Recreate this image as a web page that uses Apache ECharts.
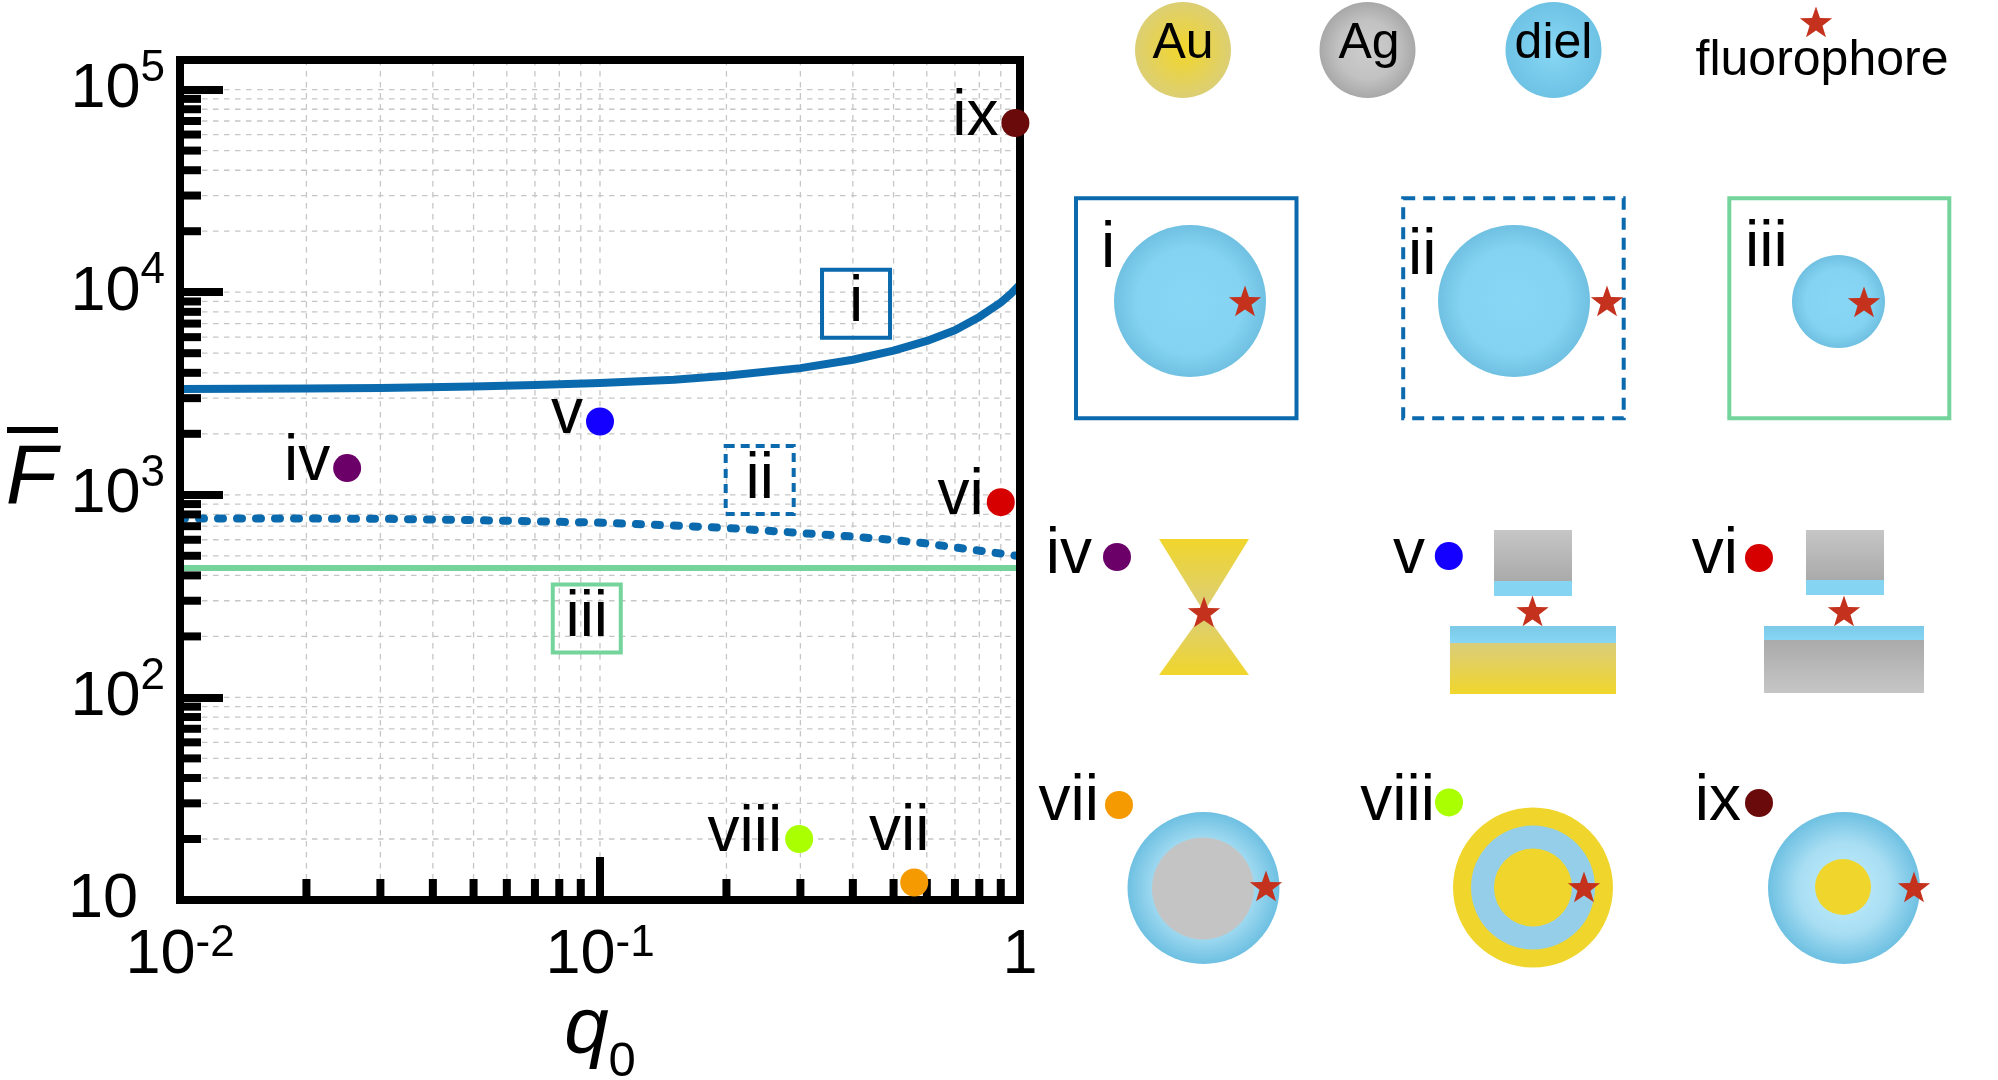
<!DOCTYPE html>
<html><head><meta charset="utf-8">
<script src="https://cdn.jsdelivr.net/npm/echarts@6/dist/echarts.min.js"></script>
<style>html,body{margin:0;padding:0;background:#fff}#c{width:1998px;height:1080px}</style>
</head><body><div id="c"></div>
<script>
const FONT = '"Liberation Sans", Arial, sans-serif';

// ---- data ----
const qGrid   = [0.01, 0.02, 0.03, 0.05, 0.07, 0.1, 0.15, 0.2, 0.3, 0.4, 0.5, 0.6, 0.7, 0.8, 0.9, 0.95, 1.0];
const curveI  = [3330, 3345, 3370, 3420, 3480, 3560, 3700, 3870, 4220, 4640, 5150, 5750, 6490, 7550, 8900, 9800, 10900];
const curveII = [764, 763, 762, 750, 740, 729, 705, 686, 648, 622, 598, 575, 550, 530, 513, 505, 498];
const curveIIIq = [0.01, 1];
const curveIII  = [435, 435];

const pointNames  = ['iv', 'v', 'vi', 'vii', 'viii', 'ix'];
const pointQ      = [0.025, 0.1, 0.9, 0.56, 0.298, 0.975];
const pointF      = [1355, 2300, 920, 12.2, 20.0, 68400];
const pointColors = ['#6a0068', '#1400ff', '#d60000', '#f59a00', '#aaff00', '#6b0a0a'];

const boxNames  = ['i', 'ii', 'iii'];
const boxQ      = [0.407, 0.240, 0.093];
const boxF      = [8770, 1182, 245];
const boxColors = ['#0a6aad', '#0a6aad', '#74d49c'];

const xMajorTicks = [0.01, 0.1, 1];
const yMajorTicks = [10, 100, 1000, 10000, 100000];
const xMinorTicks = [0.02, 0.03, 0.04, 0.05, 0.06, 0.07, 0.08, 0.09, 0.2, 0.3, 0.4, 0.5, 0.6, 0.7, 0.8, 0.9];
const yMinorTicks = [20, 30, 40, 50, 60, 70, 80, 90, 200, 300, 400, 500, 600, 700, 800, 900,
                     2000, 3000, 4000, 5000, 6000, 7000, 8000, 9000, 20000, 30000, 40000, 50000, 60000, 70000, 80000, 90000];
const xGridVals = xMinorTicks.concat([0.1]);
const yGridVals = yMinorTicks.concat([100, 1000, 10000, 100000]);

// ---- helpers ----
function isPow10(v) { const e = Math.log10(v); return Math.abs(e - Math.round(e)) < 1e-3; }
function fmtX(v) {
  if (!isPow10(v)) return '';
  const e = Math.round(Math.log10(v));
  if (e === 0) return '1';
  return '10{sup|' + e + '}';
}
function fmtY(v) {
  if (!isPow10(v)) return '';
  const e = Math.round(Math.log10(v));
  if (e === 1) return '10{sp| }';
  return '10{sup|' + e + '}';
}

const chart = echarts.init(document.getElementById('c'));

const gridSeries = [
  {
    type: 'custom', z: 1, silent: true, coordinateSystem: 'cartesian2d',
    data: yGridVals.map(v => [0.01, v]),
    renderItem: function (params, api) {
      const cs = params.coordSys;
      const p = api.coord([api.value(0), api.value(1)]);
      return { type: 'line', shape: { x1: cs.x, y1: p[1], x2: cs.x + cs.width, y2: p[1] },
               style: { stroke: '#c6c6c6', lineWidth: 1.3, lineDash: [5.5, 5.5] } };
    }
  },
  {
    type: 'custom', z: 1, silent: true, coordinateSystem: 'cartesian2d',
    data: xGridVals.map(v => [v, 10]),
    renderItem: function (params, api) {
      const cs = params.coordSys;
      const p = api.coord([api.value(0), api.value(1)]);
      return { type: 'line', shape: { x1: p[0], y1: cs.y, x2: p[0], y2: cs.y + cs.height },
               style: { stroke: '#c6c6c6', lineWidth: 1.3, lineDash: [5.5, 5.5] } };
    }
  },
  {
    type: 'custom', z: 3, silent: true, coordinateSystem: 'cartesian2d',
    data: yMinorTicks.map(v => [0.01, v]),
    renderItem: function (params, api) {
      const cs = params.coordSys;
      const p = api.coord([api.value(0), api.value(1)]);
      return { type: 'rect', shape: { x: cs.x, y: p[1] - 4, width: 21, height: 8 }, style: { fill: '#000' } };
    }
  },
  {
    type: 'custom', z: 3, silent: true, coordinateSystem: 'cartesian2d',
    data: xMinorTicks.map(v => [v, 10]),
    renderItem: function (params, api) {
      const cs = params.coordSys;
      const p = api.coord([api.value(0), api.value(1)]);
      return { type: 'rect', shape: { x: p[0] - 4, y: cs.y + cs.height - 21, width: 8, height: 21 }, style: { fill: '#000' } };
    }
  }
];

// ---- illustration (decorative graphics) ----
const BLUE_SPHERE = { type: 'radial', x: 0.5, y: 0.5, r: 0.5, colorStops: [
  { offset: 0, color: '#88d7f5' }, { offset: 0.7, color: '#84d3f2' }, { offset: 1, color: '#70c0e2' }] };
const LIGHT_SHELL = { type: 'radial', x: 0.5, y: 0.5, r: 0.5, colorStops: [
  { offset: 0, color: '#c4eefc' }, { offset: 0.6, color: '#a8def3' }, { offset: 1, color: '#6ec0e2' }] };
const GOLD = '#f0d62c';
function lin(c0, c1) { return { type: 'linear', x: 0, y: 0, x2: 0, y2: 1, colorStops: [{ offset: 0, color: c0 }, { offset: 1, color: c1 }] }; }
function rad(c0, c1) { return { type: 'radial', x: 0.5, y: 0.5, r: 0.5, colorStops: [{ offset: 0, color: c0 }, { offset: 1, color: c1 }] }; }

const G = [];
function circle(cx, cy, r, fill) { G.push({ type: 'circle', silent: true, shape: { cx: cx, cy: cy, r: r }, style: { fill: fill } }); }
function rect(x, y, w, h, fill) { G.push({ type: 'rect', silent: true, shape: { x: x, y: y, width: w, height: h }, style: { fill: fill } }); }
function frame(x, y, w, h, stroke, dash) { G.push({ type: 'rect', silent: true, shape: { x: x, y: y, width: w, height: h },
  style: { fill: 'none', stroke: stroke, lineWidth: 4, lineDash: dash || null } }); }
function poly(pts, fill) { G.push({ type: 'polygon', silent: true, shape: { points: pts }, style: { fill: fill } }); }
function text(s, x, baseline, size, align) {
  G.push({ type: 'text', silent: true, x: x, y: baseline - 0.3465 * size,
    style: { text: s, fontSize: size, fontFamily: FONT, fill: '#000', textAlign: align, align: align,
             textVerticalAlign: 'middle', verticalAlign: 'middle' } });
}
function star(cx, cy) {
  const R = 17, r = 6.8, c = cy + 1.6, pts = [];
  for (let i = 0; i < 10; i++) {
    const a = -Math.PI / 2 + i * Math.PI / 5, rr = (i % 2) ? r : R;
    pts.push([cx + rr * Math.cos(a), c + rr * Math.sin(a)]);
  }
  poly(pts, '#c4321e');
}

// legend row
circle(1183, 50, 48, rad('#f2d62a', '#dccf74')); text('Au', 1183, 62, 50, 'center');
circle(1367.5, 50, 48, { type: 'radial', x: 0.5, y: 0.5, r: 0.5, colorStops: [{ offset: 0, color: '#cdcdcd' }, { offset: 0.6, color: '#c2c2c2' }, { offset: 1, color: '#a8a8a8' }] });
text('Ag', 1369, 62, 50, 'center');
circle(1553.5, 50, 48, rad('#88d8f6', '#6ec2e4')); text('diel', 1553.5, 62, 50, 'center');
star(1816, 22); text('fluorophore', 1822, 79, 50, 'center');

// row 1: i, ii, iii
frame(1076, 198.3, 220.5, 220, '#0a6aad');
circle(1190, 301, 76, BLUE_SPHERE); star(1245, 301); text('i', 1101, 272, 64, 'left');
frame(1403.2, 198.3, 220.5, 220, '#0a6aad', [12, 8]);
circle(1514, 301, 76, BLUE_SPHERE); star(1607, 301); text('ii', 1408, 279, 64, 'left');
frame(1729.3, 198.3, 220, 220, '#74d49c');
circle(1838.5, 301.5, 46.5, BLUE_SPHERE); star(1864, 302); text('iii', 1745, 271, 64, 'left');

// row 2: iv, v, vi
text('iv', 1092, 578, 64, 'right'); circle(1117, 557, 14, pointColors[0]);
poly([[1159, 539], [1249, 539], [1204, 612]], lin(GOLD, '#dacd7a'));
poly([[1204, 612], [1159, 675], [1249, 675]], lin('#dacd7a', GOLD));
star(1204, 612);
text('v', 1425, 578, 64, 'right'); circle(1448.8, 556, 14, pointColors[1]);
rect(1494, 530, 78, 51, lin('#c6c6c6', '#aaaaaa')); rect(1494, 581, 78, 15, '#84d4f2');
star(1532.5, 611);
rect(1450, 626, 166, 17, lin('#7cc9e8', '#86d6f4')); rect(1450, 643, 166, 51, lin('#dacd7a', GOLD));
text('vi', 1738, 578, 64, 'right'); circle(1759, 558, 14, pointColors[2]);
rect(1806, 530, 78, 50, lin('#c6c6c6', '#aaaaaa')); rect(1806, 580, 78, 15, '#84d4f2');
star(1844, 611);
rect(1764, 626, 160, 14, lin('#7cc9e8', '#86d6f4')); rect(1764, 640, 160, 53, lin('#aaaaaa', '#c6c6c6'));

// row 3: vii, viii, ix
text('vii', 1099, 825, 64, 'right'); circle(1119, 805, 14, pointColors[3]);
circle(1203.5, 888, 76, LIGHT_SHELL); circle(1203, 888.5, 51, '#c4c4c4'); star(1266, 886);
text('viii', 1435, 824.5, 64, 'right'); circle(1449, 802.4, 14, pointColors[4]);
circle(1533, 887.5, 80, GOLD); circle(1533, 887.5, 62, '#94cee8'); circle(1533, 887.5, 39, GOLD); star(1584, 887);
text('ix', 1741, 824.5, 64, 'right'); circle(1759, 803, 14, pointColors[5]);
circle(1844, 888, 76, LIGHT_SHELL); circle(1843, 887, 28, GOLD); star(1914, 887);

// overline of F-bar
G.push({ type: 'rect', silent: true, shape: { x: 7, y: 427, width: 51, height: 6 }, style: { fill: '#000' } });

const axisLineStyle = { show: true, onZero: false, lineStyle: { color: '#000', width: 8, cap: 'square' } };

const option = {
  animation: false,
  backgroundColor: '#fff',
  textStyle: { fontFamily: FONT },
  grid: { left: 180, top: 60, width: 840, height: 840, show: false, containLabel: false, outerBoundsMode: 'none' },
  xAxis: [
    {
      type: 'log', logBase: 10, min: 0.01, max: 1, position: 'bottom', z: 4,
      axisLine: axisLineStyle,
      axisTick: { show: true, inside: true, length: 43, lineStyle: { color: '#000', width: 8 } },
      splitLine: { show: false }, minorTick: { show: false }, minorSplitLine: { show: false },
      axisLabel: {
        show: true, margin: 24, color: '#000', fontFamily: FONT, fontSize: 63, lineHeight: 63,
        formatter: fmtX,
        rich: { sup: { fontSize: 44, lineHeight: 44, fontFamily: FONT, color: '#000', padding: [0, 0, 24, 0] } }
      },
      name: 'q{sub|0}', nameLocation: 'middle', nameGap: 90, nameMoveOverlap: false,
      nameTextStyle: {
        fontSize: 80, lineHeight: 80, fontStyle: 'italic', fontFamily: FONT, color: '#000',
        rich: { sub: { fontSize: 49, lineHeight: 49, fontStyle: 'normal', fontFamily: FONT, color: '#000', padding: [65, 0, 0, 0] } }
      }
    },
    {
      type: 'log', logBase: 10, min: 0.01, max: 1, position: 'top', z: 4,
      axisLine: axisLineStyle, axisTick: { show: false }, axisLabel: { show: false }, splitLine: { show: false }
    }
  ],
  yAxis: [
    {
      type: 'log', logBase: 10, min: 10, max: 140000, position: 'left', z: 4,
      axisLine: axisLineStyle,
      axisTick: { show: true, inside: true, length: 43, lineStyle: { color: '#000', width: 8 } },
      splitLine: { show: false }, minorTick: { show: false }, minorSplitLine: { show: false },
      axisLabel: {
        show: true, margin: 15, color: '#000', fontFamily: FONT, fontSize: 63, lineHeight: 63,
        formatter: fmtY,
        rich: {
          sup: { fontSize: 44, lineHeight: 44, fontFamily: FONT, color: '#000', padding: [0, 0, 42, 0] },
          sp: { width: 27, fontSize: 44, lineHeight: 44, fontFamily: FONT, color: '#000', padding: [0, 0, 42, 0] }
        }
      },
      name: 'F', nameLocation: 'middle', nameRotate: 0, nameGap: 123, nameMoveOverlap: false,
      nameTextStyle: { fontSize: 84, fontStyle: 'italic', fontFamily: FONT, color: '#000', padding: [0, 0, 15, 0] }
    },
    {
      type: 'log', logBase: 10, min: 10, max: 140000, position: 'right', z: 4,
      axisLine: axisLineStyle, axisTick: { show: false }, axisLabel: { show: false }, splitLine: { show: false }
    }
  ],
  series: gridSeries.concat([
    {
      type: 'line', z: 2, silent: true, showSymbol: false, smooth: false,
      data: qGrid.map((q, i) => [q, curveI[i]]),
      lineStyle: { color: '#0a6aad', width: 8, join: 'round' }
    },
    {
      type: 'line', z: 2, silent: true, showSymbol: false, smooth: false,
      data: qGrid.map((q, i) => [q, curveII[i]]),
      lineStyle: { color: '#0a6aad', width: 8, type: [5, 14], cap: 'round', join: 'round' }
    },
    {
      type: 'line', z: 2, silent: true, showSymbol: false,
      data: curveIIIq.map((q, i) => [q, curveIII[i]]),
      lineStyle: { color: '#74d49c', width: 6 }
    },
    {
      type: 'scatter', z: 5, silent: true, symbol: 'rect', symbolSize: 68,
      data: boxNames.map((n, i) => ({
        name: n, value: [boxQ[i], boxF[i]],
        itemStyle: { color: 'rgba(255,255,255,0)', opacity: 1, borderColor: boxColors[i], borderWidth: 4, borderType: i === 1 ? [9, 6] : 'solid' }
      })),
      label: { show: true, position: 'inside', formatter: '{b}', fontSize: 64, fontFamily: FONT, color: '#000' }
    },
    {
      type: 'scatter', z: 6, silent: true, symbol: 'circle', symbolSize: 28,
      itemStyle: { opacity: 1 },
      data: pointNames.map((n, i) => {
        const d = { name: n, value: [pointQ[i], pointF[i]], itemStyle: { color: pointColors[i], opacity: 1 } };
        if (n === 'vii') d.label = { position: 'top', distance: 5, offset: [-15, 1] };
        return d;
      }),
      label: { show: true, formatter: '{b}', position: 'left', distance: 3, offset: [0, -6], fontSize: 64, fontFamily: FONT, color: '#000' }
    }
  ]),
  graphic: { elements: G }
};
chart.setOption(option);
</script>
</body></html>
